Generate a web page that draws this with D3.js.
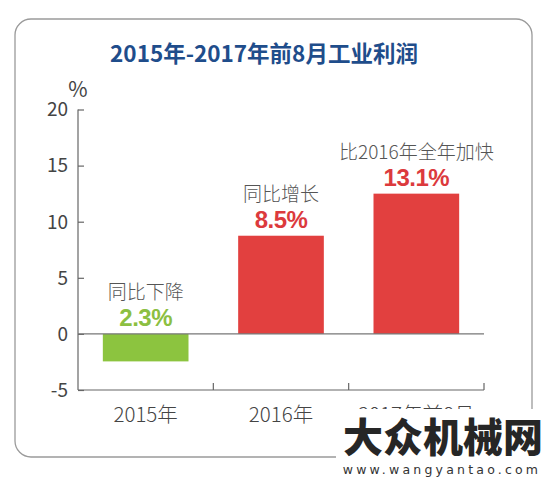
<!DOCTYPE html>
<html><head><meta charset="utf-8">
<script src="https://cdn.jsdelivr.net/npm/d3@7"></script>
<style>html,body{margin:0;padding:0;background:#fff;}svg{display:block;}</style>
</head><body>
<svg id="c" width="550" height="490"></svg>
<script>
const title = "2015年-2017年前8月工业利润";
const categories = ["2015年", "2016年", "2017年前8月"];
const values = [-2.45, 8.75, 12.5];
const valueLabels = ["2.3%", "8.5%", "13.1%"];
const notes = ["同比下降", "同比增长", "比2016年全年加快"];
const yTicks = [-5, 0, 5, 10, 15, 20];
const unit = "%";

const svg = d3.select("#c");
const CJK = "'Noto Sans CJK SC','Noto Sans',sans-serif";

// frame
svg.append("rect").attr("x", 15).attr("y", 19).attr("width", 517).attr("height", 438)
  .attr("rx", 16).attr("fill", "none").attr("stroke", "#9a9a9a").attr("stroke-width", 1.3);

svg.append("text").attr("x", 264).attr("y", 62).attr("text-anchor", "middle")
  .attr("font-family", CJK).attr("font-weight", 700).attr("font-size", 22.5)
  .attr("fill", "#1f4d8b").text(title);

const x = d3.scaleBand().domain(categories).range([78, 484]).paddingInner(0.367).paddingOuter(0.1835);
const y = d3.scaleLinear().domain([-5, 20]).range([390, 109.5]);

// y axis
const yAxis = d3.axisRight(y).tickValues(yTicks).tickSize(6).tickFormat("");
const gy = svg.append("g").attr("transform", "translate(78,0)").call(yAxis);
gy.select(".domain").remove();
gy.selectAll(".tick line").attr("stroke", "#666").attr("stroke-width", 1.2);
svg.append("line").attr("x1", 78).attr("x2", 78).attr("y1", y(20)).attr("y2", y(-5))
  .attr("stroke", "#666").attr("stroke-width", 1.2);
svg.append("g").selectAll("text").data(yTicks).join("text")
  .attr("x", 68).attr("y", d => y(d)).attr("dy", "0.36em").attr("text-anchor", "end")
  .attr("font-family", CJK).attr("font-size", 19).attr("fill", "#444").text(d => d);
svg.append("text").attr("x", 78).attr("y", 97).attr("text-anchor", "middle")
  .attr("font-family", CJK).attr("font-size", 21).attr("fill", "#444").text(unit);

// bottom axis
svg.append("line").attr("x1", 78).attr("x2", 484).attr("y1", y(-5)).attr("y2", y(-5))
  .attr("stroke", "#666").attr("stroke-width", 1.2);
svg.append("g").selectAll("line").data(categories).join("line")
  .attr("x1", d => x(d) + x.bandwidth() + x.step() * 0.1835)
  .attr("x2", d => x(d) + x.bandwidth() + x.step() * 0.1835)
  .attr("y1", y(-5)).attr("y2", y(-5) - 7).attr("stroke", "#666").attr("stroke-width", 1.2);

// bars
svg.append("g").selectAll("rect").data(values).join("rect")
  .attr("x", (d, i) => x(categories[i]))
  .attr("width", x.bandwidth())
  .attr("y", d => y(Math.max(0, d)))
  .attr("height", d => Math.abs(y(d) - y(0)))
  .attr("fill", d => d < 0 ? "#8cc43f" : "#e2403f");

// zero line
svg.append("line").attr("x1", 78).attr("x2", 484).attr("y1", y(0)).attr("y2", y(0))
  .attr("stroke", "#777").attr("stroke-width", 1.2);

// annotations
const annBase = values.map(v => Math.max(0, v));
svg.append("g").selectAll("text").data(valueLabels).join("text")
  .attr("x", (d, i) => x(categories[i]) + x.bandwidth() / 2)
  .attr("y", (d, i) => y(annBase[i]) - 8)
  .attr("text-anchor", "middle").attr("font-family", "'Liberation Sans',Arial,sans-serif")
  .attr("font-weight", 700).attr("font-size", 24).attr("letter-spacing", -0.5)
  .attr("fill", (d, i) => values[i] < 0 ? "#8cbf42" : "#dc3a3d").text(d => d);
svg.append("g").selectAll("text").data(notes).join("text")
  .attr("x", (d, i) => x(categories[i]) + x.bandwidth() / 2)
  .attr("y", (d, i) => y(annBase[i]) - 35)
  .attr("text-anchor", "middle").attr("font-family", CJK).attr("font-weight", 300)
  .attr("font-size", 19).attr("fill", "#555").text(d => d);

// category labels (the last one is partly hidden by the watermark, as in the source)
svg.append("g").selectAll("text").data(categories).join("text")
  .attr("x", d => x(d) + x.bandwidth() / 2).attr("y", 422)
  .attr("text-anchor", "middle").attr("font-family", CJK).attr("font-weight", 300)
  .attr("font-size", 20.5).attr("fill", "#444").text(d => d);

// watermark
svg.append("rect").attr("x", 336).attr("y", 409).attr("width", 214).attr("height", 81).attr("fill", "#fff");
svg.append("text").attr("x", 443).attr("y", 452).attr("text-anchor", "middle")
  .attr("font-family", CJK).attr("font-weight", 900).attr("font-size", 40)
  .attr("fill", "#262626").text("大众机械网");
svg.append("text").attr("x", 442).attr("y", 474).attr("text-anchor", "middle")
  .attr("font-family", "'DejaVu Sans',sans-serif").attr("font-size", 12.5).attr("letter-spacing", 3.2)
  .attr("fill", "#333").text("www.wangyantao.com");
</script>
</body></html>
